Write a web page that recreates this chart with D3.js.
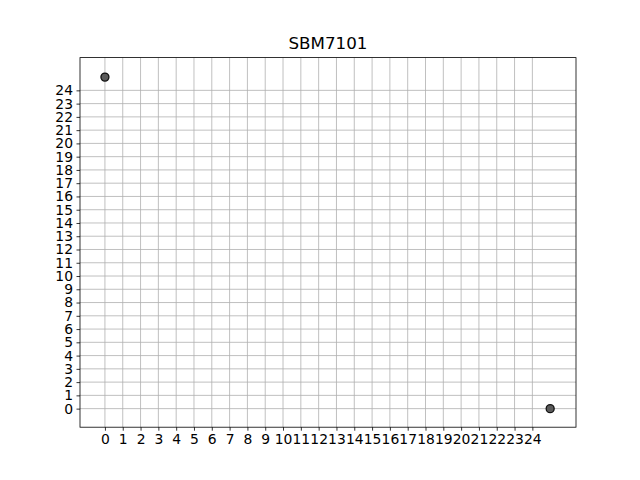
<!DOCTYPE html>
<html><head><meta charset="utf-8">
<script src="https://cdn.jsdelivr.net/npm/d3@7"></script>
<style>body{margin:0;background:#fff}svg{display:block}text{font-family:"DejaVu Sans",sans-serif}</style>
</head><body>
<svg id="c" width="640" height="480"></svg>
<script>
const title = "SBM7101";
const xs = [0, 25];
const ys = [25, 0];
const xTicks = d3.range(0, 25);
const yTicks = d3.range(0, 25);

const svg = d3.select("#c");
const L = 80, R = 576, T = 57.6, B = 427.2;
const x = d3.scaleLinear().domain([-1.4, 26.45]).range([L, R]);
const y = d3.scaleLinear().domain([-1.4, 26.47]).range([B, T]);

svg.append("rect").attr("width", 640).attr("height", 480).attr("fill", "#fff");

const g = svg.append("g");
// grid
g.selectAll(".gx").data(xTicks).enter().append("line")
  .attr("x1", d => x(d)).attr("x2", d => x(d)).attr("y1", T).attr("y2", B)
  .attr("stroke", "#b0b0b0").attr("stroke-width", 0.8);
g.selectAll(".gy").data(yTicks).enter().append("line")
  .attr("y1", d => y(d)).attr("y2", d => y(d)).attr("x1", L).attr("x2", R)
  .attr("stroke", "#b0b0b0").attr("stroke-width", 0.8);

// points
const pts = xs.map((v, i) => [v, ys[i]]);
g.selectAll(".p").data(pts).enter().append("circle")
  .attr("cx", d => x(d[0])).attr("cy", d => y(d[1])).attr("r", 4)
  .attr("fill", "#5a5a5a").attr("stroke", "#111").attr("stroke-width", 1.3);

// axes
const xa = svg.append("g").attr("transform", `translate(0,${B})`)
  .call(d3.axisBottom(x).tickValues(xTicks).tickFormat(d3.format("d")).tickSizeOuter(0).tickSize(3.5).tickPadding(3.5));
const ya = svg.append("g").attr("transform", `translate(${L},0)`)
  .call(d3.axisLeft(y).tickValues(yTicks).tickFormat(d3.format("d")).tickSizeOuter(0).tickSize(3.5).tickPadding(3.5));
[xa, ya].forEach(a => {
  a.select(".domain").remove();
  a.selectAll("line").attr("stroke", "#000").attr("stroke-width", 0.8);
  a.selectAll("text").attr("font-size", "13.9px").attr("fill", "#000").attr("font-family", "DejaVu Sans");
});

// frame
svg.append("rect").attr("x", L).attr("y", T).attr("width", R - L).attr("height", B - T)
  .attr("fill", "none").attr("stroke", "#000").attr("stroke-width", 0.8);

svg.append("text").attr("x", (L + R) / 2).attr("y", 49).attr("text-anchor", "middle")
  .attr("font-size", "16.7px").attr("fill", "#000").text(title);
</script>
</body></html>
